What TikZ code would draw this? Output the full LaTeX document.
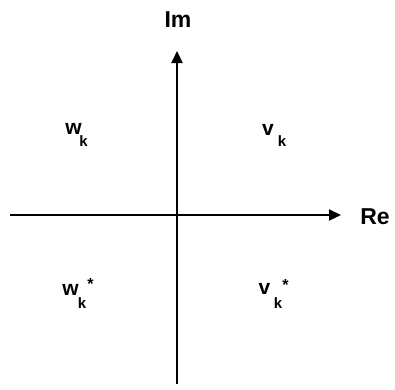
\documentclass[tikz,border=0pt]{standalone}
\usepackage{fontspec}
\setmainfont{Liberation Sans}
\usetikzlibrary{arrows.meta}
\begin{document}
\begin{tikzpicture}[x=1pt,y=-1pt,
  axis/.style={line width=2.2pt,-{Triangle[length=12pt,width=11pt]}},
  lbl/.style={inner sep=0pt,font=\bfseries\fontsize{23}{23}\selectfont},
  base/.style={inner sep=0pt,font=\bfseries\fontsize{21}{21}\selectfont},
  sub/.style={inner sep=0pt,font=\bfseries\fontsize{15}{15}\selectfont},
  star/.style={inner sep=0pt,font=\bfseries\fontsize{16}{16}\selectfont}]
\useasboundingbox (0,0) rectangle (395,389);
\coordinate (xs) at (10,215);
\coordinate (xe) at (341,215);
\coordinate (ys) at (177,384);
\coordinate (ye) at (177,51);
\draw[axis] (xs) -- (xe);
\draw[axis] (ys) -- (ye);
\node[lbl] (im) at (178,20) {Im};
\node[lbl] (re) at (375,217) {Re};
% w_k
\node[base] (w1) at (73.5,129) {w};
\node[sub] (w1k) at (83.5,141.5) {k};
% v_k
\node[base] (v1) at (268,129.5) {v};
\node[sub] (v1k) at (282,141.5) {k};
% w_k^*
\node[base] (w2) at (70.5,290) {w};
\node[sub] (w2k) at (82,303) {k};
\node[star] (w2s) at (90.5,284) {*};
% v_k^*
\node[base] (v2) at (264.5,289) {v};
\node[sub] (v2k) at (278,303.5) {k};
\node[star] (v2s) at (285.5,285) {*};
\end{tikzpicture}
\end{document}
